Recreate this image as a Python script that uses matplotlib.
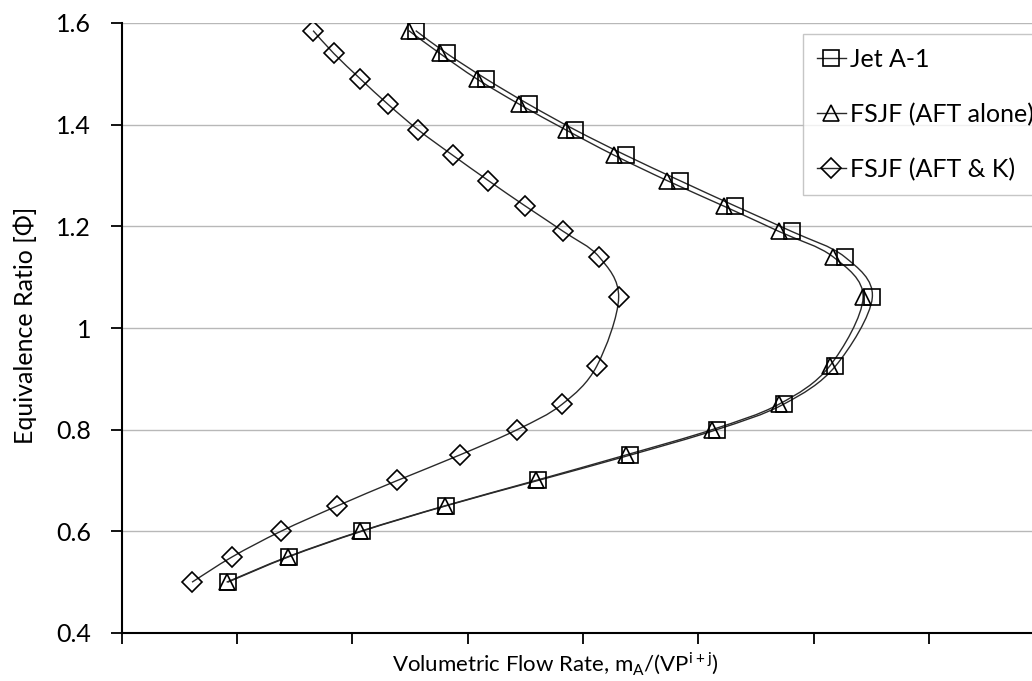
import numpy as np
import matplotlib.pyplot as plt
from matplotlib.path import Path
from matplotlib.patches import PathPatch
from matplotlib.lines import Line2D
from matplotlib.ticker import FuncFormatter, MultipleLocator

plt.rcParams['font.family'] = ['Lato', 'DejaVu Sans']
plt.rcParams['mathtext.fontset'] = 'custom'
plt.rcParams['mathtext.rm'] = 'Lato'

# equivalence ratio (same for all three fuels)
phi = [0.5, 0.55, 0.6, 0.65, 0.7, 0.75, 0.8, 0.85, 0.925, 1.06,
       1.14, 1.19, 1.24, 1.29, 1.34, 1.39, 1.44, 1.49, 1.54, 1.585]

# volumetric flow rate (axis has no tick labels, values in tick units)
jet_a1 = [0.92, 1.45, 2.08, 2.81, 3.61, 4.41, 5.16, 5.74, 6.19, 6.51,
          6.27, 5.81, 5.32, 4.84, 4.37, 3.93, 3.53, 3.16, 2.82, 2.55]
fsjf_aft = [0.91, 1.44, 2.07, 2.80, 3.59, 4.37, 5.12, 5.70, 6.14, 6.43,
            6.17, 5.70, 5.22, 4.73, 4.27, 3.85, 3.45, 3.08, 2.76, 2.49]
fsjf_aft_k = [0.61, 0.96, 1.38, 1.87, 2.39, 2.93, 3.43, 3.82, 4.12, 4.31,
              4.14, 3.83, 3.50, 3.18, 2.87, 2.57, 2.31, 2.07, 1.84, 1.66]

labels = ['Jet A-1', 'FSJF (AFT alone)', 'FSJF (AFT & K)']
markers = ['s', '^', 'D']
msizes = [11, 12, 10.5]


# Excel style smoothed line (Catmull-Rom as bezier segments)
def smooth_path(x, y):
    pts = np.column_stack([x, y])
    ext = np.vstack([pts[0], pts, pts[-1]])
    verts = [pts[0]]
    codes = [Path.MOVETO]
    for i in range(len(pts) - 1):
        p0, p1, p2, p3 = ext[i], ext[i + 1], ext[i + 2], ext[i + 3]
        verts += [p1 + (p2 - p0) / 6, p2 - (p3 - p1) / 6, p2]
        codes += [Path.CURVE4] * 3
    return Path(verts, codes)


fig = plt.figure(figsize=(10.32, 6.81), dpi=100)
ax = fig.add_axes([121.7 / 1032, 48 / 681, (1159.4 - 121.7) / 1032, 610 / 681])

handles = []
for xs, m, ms, lab in zip([jet_a1, fsjf_aft, fsjf_aft_k], markers, msizes, labels):
    ax.add_patch(PathPatch(smooth_path(xs, phi), facecolor='none',
                           edgecolor='#2a2a2a', lw=1.0, zorder=2))
    ax.plot(xs, phi, linestyle='none', marker=m, ms=ms, mfc='none',
            mec='black', mew=1.2, zorder=3)
    handles.append(Line2D([], [], color='#2a2a2a', lw=1.0, marker=m, ms=ms,
                          mfc='none', mec='black', mew=1.2, label=lab))

ax.set_xlim(0, 9)
ax.set_ylim(0.4, 1.6)
ax.xaxis.set_major_locator(MultipleLocator(1))
ax.yaxis.set_major_locator(MultipleLocator(0.2))
ax.yaxis.set_major_formatter(FuncFormatter(lambda v, p: '%g' % round(v, 2)))
ax.set_xticklabels([])
ax.tick_params(axis='both', direction='out', length=8, width=1.3,
               labelsize=18, color='black')
ax.tick_params(axis='y', pad=14)

for s in ['top', 'right']:
    ax.spines[s].set_visible(False)
for s in ['left', 'bottom']:
    ax.spines[s].set_linewidth(1.5)
    ax.spines[s].set_color('black')

ax.grid(axis='y', color='#b8b8b8', lw=1.0)
ax.set_axisbelow(True)

ax.set_ylabel('Equivalence Ratio [\u03a6]', fontsize=18)
ax.yaxis.set_label_coords((37 - 121.7) / (1159.4 - 121.7), 0.505)
ax.set_xlabel(r'Volumetric Flow Rate, m$_\mathregular{A}$/(VP$^\mathregular{i+j}$)',
              fontsize=16)
ax.xaxis.set_label_coords((555 - 121.7) / (1159.4 - 121.7), -0.028)
ax.xaxis.label.set_verticalalignment('top')

leg = ax.legend(handles=handles, loc='upper left',
                bbox_to_anchor=(803 / 1032, 1 - 34 / 681),
                bbox_transform=fig.transFigure, fontsize=18, frameon=True,
                fancybox=False, edgecolor='#b8b8b8', handlelength=1.16,
                handletextpad=0.15, labelspacing=1.27, borderpad=0.55,
                borderaxespad=0)
leg.get_frame().set_linewidth(1.0)

fig.savefig('out.png', dpi=100, facecolor='white')
